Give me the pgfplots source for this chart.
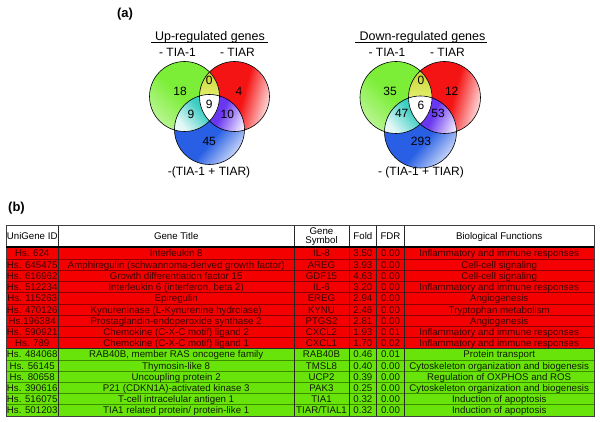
\documentclass[border=0pt]{standalone}
\usepackage{pgfplots}
\pgfplotsset{compat=1.18}
\usepackage{fontspec}
\setmainfont{Liberation Sans}
\definecolor{vgreen}{RGB}{125,238,55}
\definecolor{vred}{RGB}{245,20,20}
\definecolor{vblue}{RGB}{40,95,228}
\definecolor{vyelTop}{RGB}{190,205,40}
\definecolor{vyelBot}{RGB}{235,245,120}
\definecolor{vcyan}{RGB}{60,205,195}
\definecolor{vviolet}{RGB}{105,55,240}
\definecolor{tred}{RGB}{245,0,0}
\definecolor{tgreen}{RGB}{105,228,10}
\definecolor{tredline}{RGB}{140,0,0}
\definecolor{tgreenline}{RGB}{60,140,0}
\definecolor{tredtext}{RGB}{60,0,0}
\definecolor{tgreentext}{RGB}{15,30,0}
\definecolor{tcol}{RGB}{40,40,40}
\pgfdeclarehorizontalshading{greensh}{100bp}{color(0bp)=(white); color(25bp)=(white!45!vgreen); color(48bp)=(vgreen); color(100bp)=(vgreen)}
\pgfdeclarehorizontalshading{redsh}{100bp}{color(0bp)=(vred); color(56bp)=(vred); color(76bp)=(white!88!vred); color(100bp)=(white)}
\pgfdeclarehorizontalshading{bluesh}{100bp}{color(0bp)=(vblue); color(56bp)=(vblue); color(80bp)=(white!92!vblue); color(100bp)=(white)}
\pgfdeclarehorizontalshading{cyansh}{100bp}{color(0bp)=(white); color(30bp)=(white!85!vcyan); color(60bp)=(vcyan); color(100bp)=(vcyan)}
\pgfdeclarehorizontalshading{violetsh}{100bp}{color(0bp)=(vviolet); color(45bp)=(vviolet); color(75bp)=(white!90!vviolet); color(100bp)=(white)}
\tikzset{
  vnum/.style={inner sep=0pt, font=\fontsize{12}{14}\selectfont},
  vlab/.style={inner sep=0pt, anchor=base, font=\fontsize{12}{14}\selectfont},
  vtitle/.style={inner sep=0pt, anchor=base, font=\fontsize{12.5}{14}\selectfont},
  tt/.style={inner sep=0pt, anchor=base, font=\fontsize{9.7}{11}\selectfont},
  rl/.style={tredline, line width=0.8pt},
  gl/.style={tgreenline, line width=0.8pt},
  cl/.style={tcol, line width=0.8pt},
}
\newcommand\trow[8]{%
  \node[tt,#8] at (axis cs:32.2,#1) {#2};
  \node[tt,#8] at (axis cs:176.2,#1) {#3};
  \node[tt,#8] at (axis cs:321.5,#1) {#4};
  \node[tt,#8] at (axis cs:362.9,#1) {#5};
  \node[tt,#8] at (axis cs:390.5,#1) {#6};
  \node[tt,#8] at (axis cs:499.2,#1) {#7};
}
\newcommand\hl[2]{\draw[#2] (axis cs:6,#1) -- (axis cs:594,#1);}
\newcommand\vl[1]{\draw[cl] (axis cs:#1,225.7) -- (axis cs:#1,416);}
\begin{document}
\begin{tikzpicture}
\begin{axis}[
  width=600pt, height=422pt, scale only axis,
  xmin=0, xmax=600, ymin=0, ymax=422, y dir=reverse,
  hide axis, clip=false,
]
\path (axis cs:0,0) rectangle (axis cs:600,422);

% ---------- panel labels ----------
\node[inner sep=0pt, font=\fontsize{13}{15}\selectfont\bfseries] at (axis cs:125,14) {(a)};
\node[inner sep=0pt, font=\fontsize{13}{15}\selectfont\bfseries] at (axis cs:16.5,208) {(b)};

% ---------- left Venn ----------
\shade[shading=greensh, shading angle=45] (axis cs:184.5,96.5) circle[radius=35pt];
\shade[shading=redsh, shading angle=-15] (axis cs:234.5,96.5) circle[radius=35pt];
\shade[shading=bluesh, shading angle=-40] (axis cs:209.5,129.5) circle[radius=35pt];
\begin{scope}
  \clip (axis cs:184.5,96.5) circle[radius=35pt];
  \clip (axis cs:234.5,96.5) circle[radius=35pt];
  \shade[top color=vyelTop, bottom color=vyelBot] (axis cs:195,62) rectangle (axis cs:224,103);
\end{scope}
\begin{scope}
  \clip (axis cs:184.5,96.5) circle[radius=35pt];
  \clip (axis cs:209.5,129.5) circle[radius=35pt];
  \shade[shading=cyansh, shading angle=40] (axis cs:172,94) rectangle (axis cs:215,132);
\end{scope}
\begin{scope}
  \clip (axis cs:234.5,96.5) circle[radius=35pt];
  \clip (axis cs:209.5,129.5) circle[radius=35pt];
  \shade[shading=violetsh, shading angle=-25] (axis cs:204,94) rectangle (axis cs:248,132);
\end{scope}
\begin{scope}
  \clip (axis cs:184.5,96.5) circle[radius=35pt];
  \clip (axis cs:234.5,96.5) circle[radius=35pt];
  \clip (axis cs:209.5,129.5) circle[radius=35pt];
  \fill[white] (axis cs:180,80) rectangle (axis cs:240,130);
\end{scope}
\draw[line width=0.6pt] (axis cs:184.5,96.5) circle[radius=35pt];
\draw[line width=0.6pt] (axis cs:234.5,96.5) circle[radius=35pt];
\draw[line width=0.6pt] (axis cs:209.5,129.5) circle[radius=35pt];

\node[vtitle] at (axis cs:210,40.3) {Up-regulated genes};
\draw[line width=0.8pt] (axis cs:151,42.6) -- (axis cs:268,42.6);
\node[vlab] at (axis cs:177.5,56.3) {- TIA-1};
\node[vlab] at (axis cs:237.5,56.3) {- TIAR};
\node[vnum] at (axis cs:180,91.2) {18};
\node[vnum] at (axis cs:209.2,80.8) {0};
\node[vnum] at (axis cs:239,91.2) {4};
\node[vnum] at (axis cs:209.2,104.3) {9};
\node[vnum] at (axis cs:191,114.2) {9};
\node[vnum] at (axis cs:227.3,114.2) {10};
\node[vnum] at (axis cs:209.2,141.2) {45};
\node[vlab] at (axis cs:209,176) {-(TIA-1 + TIAR)};

% ---------- right Venn ----------
\shade[shading=greensh, shading angle=45] (axis cs:396,97.5) circle[radius=36pt];
\shade[shading=redsh, shading angle=-15] (axis cs:444.5,97.5) circle[radius=36pt];
\shade[shading=bluesh, shading angle=-40] (axis cs:420.5,132) circle[radius=36pt];
\begin{scope}
  \clip (axis cs:396,97.5) circle[radius=36pt];
  \clip (axis cs:444.5,97.5) circle[radius=36pt];
  \shade[top color=vyelTop, bottom color=vyelBot] (axis cs:406,62) rectangle (axis cs:436,105);
\end{scope}
\begin{scope}
  \clip (axis cs:396,97.5) circle[radius=36pt];
  \clip (axis cs:420.5,132) circle[radius=36pt];
  \shade[shading=cyansh, shading angle=40] (axis cs:382,95) rectangle (axis cs:426,136);
\end{scope}
\begin{scope}
  \clip (axis cs:444.5,97.5) circle[radius=36pt];
  \clip (axis cs:420.5,132) circle[radius=36pt];
  \shade[shading=violetsh, shading angle=-25] (axis cs:415,95) rectangle (axis cs:460,136);
\end{scope}
\begin{scope}
  \clip (axis cs:396,97.5) circle[radius=36pt];
  \clip (axis cs:444.5,97.5) circle[radius=36pt];
  \clip (axis cs:420.5,132) circle[radius=36pt];
  \fill[white] (axis cs:390,80) rectangle (axis cs:450,135);
\end{scope}
\draw[line width=0.6pt] (axis cs:396,97.5) circle[radius=36pt];
\draw[line width=0.6pt] (axis cs:444.5,97.5) circle[radius=36pt];
\draw[line width=0.6pt] (axis cs:420.5,132) circle[radius=36pt];

\node[vtitle] at (axis cs:422.5,40.3) {Down-regulated genes};
\draw[line width=0.8pt] (axis cs:355,42.6) -- (axis cs:487,42.6);
\node[vlab] at (axis cs:387,56.3) {- TIA-1};
\node[vlab] at (axis cs:447.5,56.3) {- TIAR};
\node[vnum] at (axis cs:390,91.2) {35};
\node[vnum] at (axis cs:421,80.8) {0};
\node[vnum] at (axis cs:451.7,91.2) {12};
\node[vnum] at (axis cs:421,105) {6};
\node[vnum] at (axis cs:401.7,113.5) {47};
\node[vnum] at (axis cs:438,113.5) {53};
\node[vnum] at (axis cs:421,141.2) {293};
\node[vlab] at (axis cs:421,176) {- (TIA-1 + TIAR)};

% ---------- table ----------
\fill[tred] (axis cs:6,248) rectangle (axis cs:594,348.8);
\fill[tgreen] (axis cs:6,348.8) rectangle (axis cs:594,416);
\hl{259.2}{rl}\hl{270.4}{rl}\hl{281.6}{rl}\hl{292.8}{rl}
\hl{304.0}{rl}\hl{315.2}{rl}\hl{326.4}{rl}\hl{337.6}{rl}
\hl{348.8}{cl}
\hl{360.0}{gl}\hl{371.2}{gl}\hl{382.4}{gl}\hl{393.6}{gl}\hl{404.8}{gl}
\vl{58.3}\vl{294}\vl{349}\vl{376.7}\vl{404.3}
\draw[black!75, line width=1pt] (axis cs:6,225.7) rectangle (axis cs:594,416);
\draw[black, line width=2.2pt] (axis cs:6,247) -- (axis cs:594,247);

\node[tt] at (axis cs:32.2,239.5) {UniGene ID};
\node[tt] at (axis cs:176.2,239.5) {Gene Title};
\node[tt] at (axis cs:321.5,234.5) {Gene};
\node[tt] at (axis cs:321.5,243.5) {Symbol};
\node[tt] at (axis cs:362.9,239.5) {Fold};
\node[tt] at (axis cs:390.5,239.5) {FDR};
\node[tt] at (axis cs:499.2,239.5) {Biological Functions};

\trow{257.0}{Hs. 624}{Interleukin 8}{IL-8}{3.50}{0.00}{Inflammatory and immune responses}{tredtext}
\trow{268.2}{Hs. 645475}{Amphiregulin (schwannoma-derived growth factor)}{AREG}{3.93}{0.00}{Cell-cell signaling}{tredtext}
\trow{279.4}{Hs. 616962}{Growth differentiation factor 15}{GDF15}{4.63}{0.00}{Cell-cell signaling}{tredtext}
\trow{290.6}{Hs. 512234}{Interleukin 6 (interferon, beta 2)}{IL-6}{3.20}{0.00}{Inflammatory and immune responses}{tredtext}
\trow{301.8}{Hs. 115263}{Epiregulin}{EREG}{2.94}{0.00}{Angiogenesis}{tredtext}
\trow{313.0}{Hs. 470126}{Kynureninase (L-Kynurenine hydrolase)}{KYNU}{2.46}{0.00}{Tryptophan metabolism}{tredtext}
\trow{324.2}{Hs.196384}{Prostaglandin-endoperoxide synthase 2}{PTGS2}{2.81}{0.00}{Angiogenesis}{tredtext}
\trow{335.4}{Hs. 590921}{Chemokine (C-X-C motif) ligand 2}{CXCL2}{1.93}{0.01}{Inflammatory and immune responses}{tredtext}
\trow{346.6}{Hs. 789}{Chemokine (C-X-C motif) ligand 1}{CXCL1}{1.70}{0.02}{Inflammatory and immune responses}{tredtext}
\trow{357.8}{Hs. 484068}{RAB40B, member RAS oncogene family}{RAB40B}{0.46}{0.01}{Protein transport}{tgreentext}
\trow{369.0}{Hs. 56145}{Thymosin-like 8}{TMSL8}{0.40}{0.00}{Cytoskeleton organization and biogenesis}{tgreentext}
\trow{380.2}{Hs. 80658}{Uncoupling protein 2}{UCP2}{0.39}{0.00}{Regulation of OXPHOS and ROS}{tgreentext}
\trow{391.4}{Hs. 390616}{P21 (CDKN1A)-activated kinase 3}{PAK3}{0.25}{0.00}{Cytoskeleton organization and biogenesis}{tgreentext}
\trow{402.6}{Hs. 516075}{T-cell intracelular antigen 1}{TIA1}{0.32}{0.00}{Induction of apoptosis}{tgreentext}
\trow{413.8}{Hs. 501203}{TIA1 related protein/ protein-like 1}{TIAR/TIAL1}{0.32}{0.00}{Induction of apoptosis}{tgreentext}
\end{axis}
\end{tikzpicture}
\end{document}
